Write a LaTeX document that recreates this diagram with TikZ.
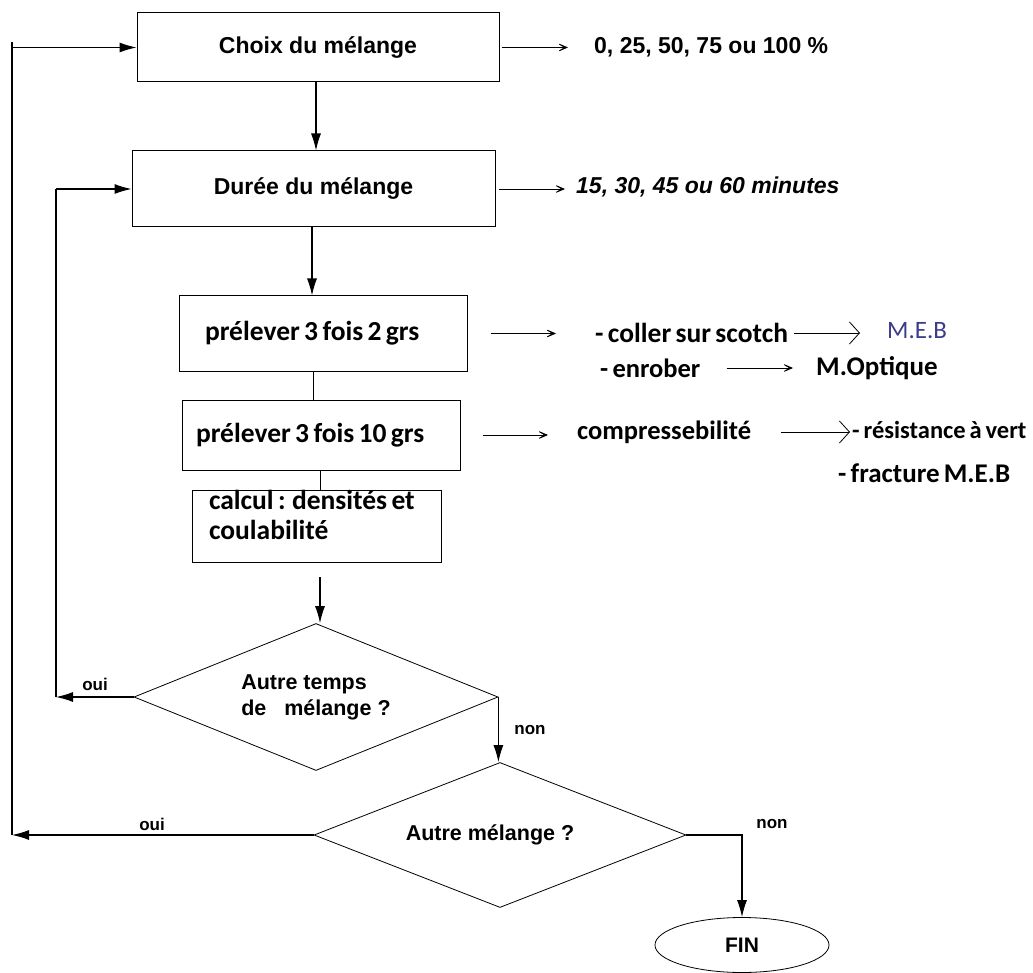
\documentclass[tikz,border=0pt]{standalone}
\usepackage{fontspec}
\setmainfont{Liberation Sans}
\newfontfamily\calfont{Carlito}[WordSpace=0.7]
\usetikzlibrary{arrows.meta,shapes.geometric,calc}
\definecolor{mebblue}{RGB}{60,60,140}
\newcommand{\natsp}{\spaceskip=0pt\relax\xspaceskip=0pt\relax}
\begin{document}
\begin{tikzpicture}[x=1pt,y=-1pt,
  box/.style={draw,line width=1pt,rectangle,inner sep=0pt},
  tah/.style={font=\fontsize{23}{27}\selectfont\bfseries},
  cal/.style={font=\calfont\fontsize{27.5}{30}\selectfont\bfseries},
  txt/.style={inner sep=0pt,anchor=west},
  lab/.style={inner sep=0pt,font=\fontsize{17}{19}\selectfont\bfseries},
  dec/.style={draw,diamond,line width=0.8pt,inner sep=0pt,aspect=2.5,align=left,
              font=\fontsize{21.5}{26}\selectfont\bfseries},
  arr/.style={line width=1.1pt,-{Latex[length=17pt,width=10pt]}},
  darr/.style={line width=0.8pt,-{Stealth[length=14pt,width=12pt,inset=10pt]}},
  barb/.style={line width=0.8pt,-{Straight Barb[length=10pt,width=22pt]}},
]
\useasboundingbox (0,0) rectangle (1033,973);

% main boxes
\node[box,tah,minimum width=362pt,minimum height=69pt] (c1) at (318,47.5) {Choix du mélange};
\node[box,tah,minimum width=363pt,minimum height=76pt] (c2) at (313.5,189) {Durée du mélange};
\node[box,cal,minimum height=75pt,inner xsep=26pt,text width=236pt,align=left] (b3) at (323,333.5) {\natsp prélever 3 fois 2 grs};
\node[box,cal,minimum height=70pt,inner xsep=14pt,text width=250pt,align=left] (b4) at (321,435) {\natsp prélever 3 fois 10 grs};
\node[box,cal,minimum height=69pt,inner xsep=17pt,text width=215pt,align=left,text depth=53pt] (b5) at (316.5,526.5) {\natsp calcul : densités et\\coulabilité};

% decisions
\node[dec,minimum width=364pt,minimum height=147pt] (d1) at (316,697) {Autre temps\\ de\ \ \ mélange ?};
\node[dec,minimum width=372pt,minimum height=145pt] (d2) at (500,835) {Autre mélange ?\hspace{20pt}};
\node[draw,ellipse,line width=0.8pt,minimum width=174pt,minimum height=55pt,inner sep=0pt,
      font=\fontsize{21}{24}\selectfont\bfseries] (fin) at (742,945) {FIN};

% side texts
\node[txt,tah] (t1) at (594,47) {0, 25, 50, 75 ou 100 \%};
\node[txt,tah] (t2) at (576,187) {\itshape 15, 30, 45 ou 60 minutes};
\node[txt,font=\calfont\fontsize{27.5}{30}\selectfont\bfseries] (t3) at (595,333) {- coller sur scotch};
\node[txt,font=\calfont\fontsize{25}{30}\selectfont,text=mebblue] (meb) at (887,331) {M.E.B};
\node[txt,font=\calfont\fontsize{26.5}{30}\selectfont\bfseries] (t4) at (600,368) {- enrober};
\node[txt,font=\calfont\fontsize{27}{30}\selectfont\bfseries] (t5) at (816,368) {M.Optique};
\node[txt,font=\calfont\fontsize{26.5}{30}\selectfont\bfseries] (t6) at (577,432) {compressebilité};
\node[txt,font=\calfont\fontsize{24.5}{30}\selectfont\bfseries] (t7) at (852,430) {- résistance à vert};
\node[txt,font=\calfont\fontsize{27}{30}\selectfont\bfseries] (t8) at (838,473) {- fracture M.E.B};

% labels
\node[lab] (oui1) at (95,684) {oui};
\node[lab] (non1) at (530,730) {non};
\node[lab] (oui2) at (152,824) {oui};
\node[lab] (non2) at (772,824) {non};

% coordinates
\coordinate (L1) at (12,835);
\coordinate (L2) at (56,697);
\coordinate (a5) at (320,577);

% main flow
\draw[arr] ([xshift=-2pt]c1.south) -- ([xshift=-2pt]c1.south |- c2.north);
\draw[arr] ([xshift=-1.5pt]c2.south) -- ([xshift=-1.5pt]c2.south |- b3.north);
\draw[line width=0.8pt] ([xshift=-10pt]b3.south) -- ([xshift=-10pt]b3.south |- b4.north);
\draw[line width=0.8pt] ([xshift=-1pt]b4.south) -- ([xshift=-1pt]b4.south |- b5.north);
\draw[arr] (a5) -- (a5 |- d1.north);
\draw[arr] (d1.west) -- (L2);
\draw[line width=1.1pt] (L2) -- (L2 |- c2.west);
\draw[arr] (L2 |- c2.west) -- (c2.west);
\draw[arr] (d1.east) -- (d1.east |- d2.north);
\draw[arr] (d2.west) -- (L1);
\draw[line width=1.1pt] (L1) -- ([yshift=5pt]L1 |- c1.west);
\draw[arr] (L1 |- c1.west) -- (c1.west);
\draw[arr] (d2.east) -| (fin.north);

% side arrows
\draw[darr,shorten <=2pt,shorten >=26pt] (c1.east) -- (c1.east -| t1.west);
\draw[darr,shorten <=3pt,shorten >=11pt] (c2.east) -- (c2.east -| t2.west);
\draw[darr,shorten <=23pt,shorten >=39pt] (b3.east) -- (b3.east -| t3.west);
\draw[barb,shorten <=6pt,shorten >=27pt] (t3.east) -- (t3.east -| meb.west);
\draw[darr,shorten <=26pt,shorten >=23pt] (t4.east) -- (t4.east -| t5.west);
\draw[darr,shorten <=22pt,shorten >=29pt] (b4.east) -- (b4.east -| t6.west);
\draw[barb,shorten <=30pt,shorten >=2pt] (t6.east) -- (t6.east -| t7.west);
\end{tikzpicture}
\end{document}
